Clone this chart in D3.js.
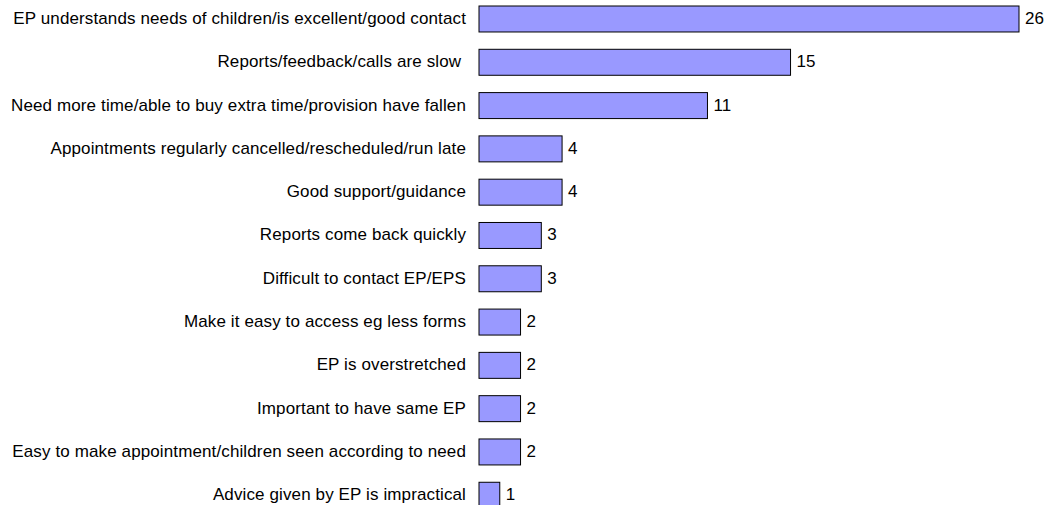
<!DOCTYPE html>
<html>
<head>
<meta charset="utf-8">
<script src="https://cdn.jsdelivr.net/npm/d3@7"></script>
<style>
  body { margin: 0; background: #fff; }
  text { font-family: "Liberation Sans", Arial, sans-serif; fill: #000; }
</style>
</head>
<body>
<div id="chart"></div>
<script>
// Data
var categories = [
  "EP understands needs of children/is excellent/good contact",
  "Reports/feedback/calls are slow ",
  "Need more time/able to buy extra time/provision have fallen",
  "Appointments regularly cancelled/rescheduled/run late",
  "Good support/guidance",
  "Reports come back quickly",
  "Difficult to contact EP/EPS",
  "Make it easy to access eg less forms",
  "EP is overstretched",
  "Important to have same EP",
  "Easy to make appointment/children seen according to need",
  "Advice given by EP is impractical"
];
var counts = [26, 15, 11, 4, 4, 3, 3, 2, 2, 2, 2, 1];

var svgWidth = 1053;
var svgHeight = 505;
var barLeft = 479;

var svg = d3.select("#chart")
  .append("svg")
  .attr("width", svgWidth)
  .attr("height", svgHeight);

var xScale = d3.scaleLinear()
  .domain([0, 26])
  .range([barLeft, barLeft + 540]);

var yScale = d3.scaleBand()
  .domain(categories)
  .range([-2.66, 516.9])
  .paddingInner(0.4)
  .paddingOuter(0.2);

// category labels
svg.selectAll("text.cat")
  .data(categories)
  .enter()
  .append("text")
  .attr("class", "cat")
  .attr("x", 466)
  .attr("y", d => yScale(d) + yScale.bandwidth() / 2 - 1)
  .attr("dy", "0.35em")
  .attr("text-anchor", "end")
  .attr("font-size", 17)
  .attr("letter-spacing", 0.12)
  .style("white-space", "pre")
  .text(d => d);

// bars
svg.selectAll("rect")
  .data(counts)
  .enter()
  .append("rect")
  .attr("x", xScale(0))
  .attr("y", (d, i) => yScale(categories[i]))
  .attr("width", d => xScale(d) - xScale(0))
  .attr("height", yScale.bandwidth())
  .attr("fill", "#9999ff")
  .attr("stroke", "#000")
  .attr("stroke-width", 1);

// value labels
svg.selectAll("text.val")
  .data(counts)
  .enter()
  .append("text")
  .attr("class", "val")
  .attr("x", d => xScale(d) + 6)
  .attr("y", (d, i) => yScale(categories[i]) + yScale.bandwidth() / 2 - 1)
  .attr("dy", "0.35em")
  .attr("font-size", 17)
  .text(d => d);
</script>
</body>
</html>
